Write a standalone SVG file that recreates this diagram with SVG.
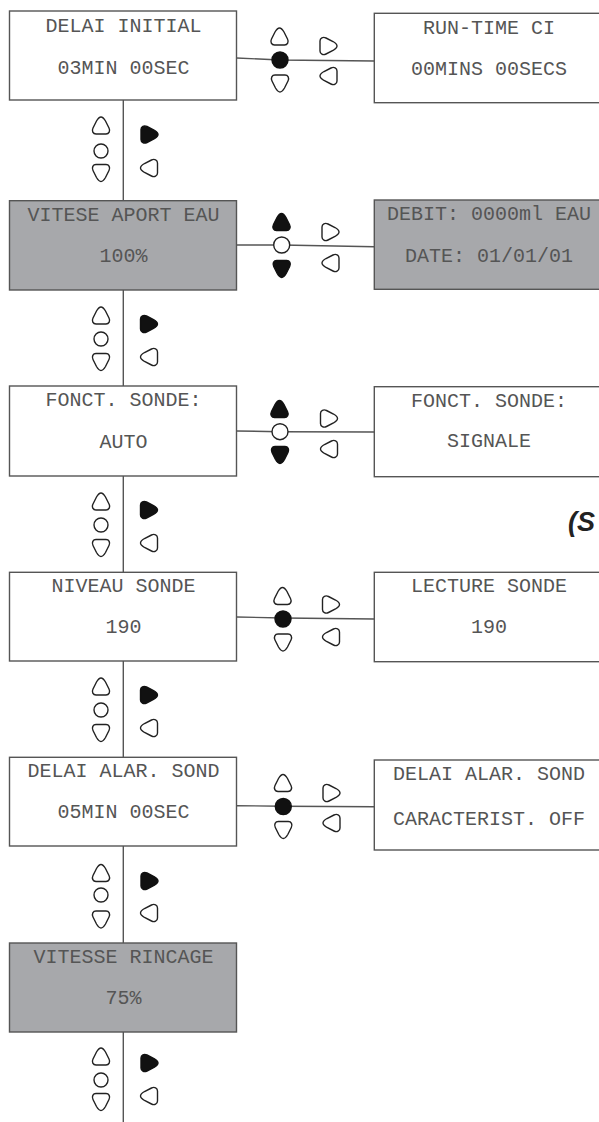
<svg xmlns="http://www.w3.org/2000/svg" xmlns:xlink="http://www.w3.org/1999/xlink" width="599" height="1122" viewBox="0 0 599 1122">
<style>
.box{fill:#fff;stroke:#555;stroke-width:1.4}
.box.g{fill:#a7a8ab}
.t{font-family:"Liberation Mono","Courier New",monospace;font-size:20px;fill:#555;text-anchor:middle}
.ln{stroke:#555;stroke-width:1.4;fill:none}
.o{fill:#fff;stroke:#222;stroke-width:1.4}
.f{fill:#111;stroke:#111;stroke-width:1.4}
.note{font-family:"Liberation Sans",Arial,sans-serif;font-size:27px;font-weight:bold;font-style:italic;fill:#222}
</style>
<defs>
<path id="tri" d="M 0,-8.5 C 2,-8.5 3,-7 4.5,-4.5 L 8,2.5 C 9.5,5.5 8,8.5 5,8.5 L -5,8.5 C -8,8.5 -9.5,5.5 -8,2.5 L -4.5,-4.5 C -3,-7 -2,-8.5 0,-8.5 Z"/>
</defs>
<rect width="599" height="1122" fill="#fff"/>

<g id="connectors">
  <line class="ln" x1="123.3" y1="100" x2="123.3" y2="200.7"/>
  <line class="ln" x1="123.3" y1="290" x2="123.3" y2="386"/>
  <line class="ln" x1="123.3" y1="476" x2="123.3" y2="572.3"/>
  <line class="ln" x1="123.3" y1="661" x2="123.3" y2="757.3"/>
  <line class="ln" x1="123.3" y1="846" x2="123.3" y2="943"/>
  <line class="ln" x1="123.3" y1="1032" x2="123.3" y2="1122"/>
  <polyline class="ln" points="236.5,58 280,60 374.3,61"/>
  <polyline class="ln" points="236.5,245 281.7,245 374.3,246.7"/>
  <polyline class="ln" points="236.5,431 280,431.7 374.3,432"/>
  <polyline class="ln" points="236.5,617 283,618 374.3,619"/>
  <polyline class="ln" points="236.5,805.7 283.3,806.2 374.3,806.7"/>
</g>

<g id="hc1">
  <use xlink:href="#tri" class="o" transform="translate(279.5,36.5)"/>
  <circle class="f" cx="280" cy="60" r="8"/>
  <use xlink:href="#tri" class="o" transform="translate(280,83.5) rotate(180)"/>
  <use xlink:href="#tri" class="o" transform="translate(328.5,46) rotate(90)"/>
  <use xlink:href="#tri" class="o" transform="translate(328.5,76) rotate(-90)"/>
</g>
<g id="hc2">
  <use xlink:href="#tri" class="f" transform="translate(281.5,222)"/>
  <circle class="o" cx="281.7" cy="245" r="8"/>
  <use xlink:href="#tri" class="f" transform="translate(281.7,269) rotate(180)"/>
  <use xlink:href="#tri" class="o" transform="translate(330.5,232) rotate(90)"/>
  <use xlink:href="#tri" class="o" transform="translate(330.5,263) rotate(-90)"/>
</g>
<g id="hc3">
  <use xlink:href="#tri" class="f" transform="translate(279.5,409)"/>
  <circle class="o" cx="280" cy="431.7" r="8"/>
  <use xlink:href="#tri" class="f" transform="translate(280,455) rotate(180)"/>
  <use xlink:href="#tri" class="o" transform="translate(329,418.5) rotate(90)"/>
  <use xlink:href="#tri" class="o" transform="translate(329,449) rotate(-90)"/>
</g>
<g id="hc4">
  <use xlink:href="#tri" class="o" transform="translate(282.5,596)"/>
  <circle class="f" cx="283" cy="619" r="8"/>
  <use xlink:href="#tri" class="o" transform="translate(283,642.5) rotate(180)"/>
  <use xlink:href="#tri" class="o" transform="translate(331,604.5) rotate(90)"/>
  <use xlink:href="#tri" class="o" transform="translate(331,637) rotate(-90)"/>
</g>
<g id="hc5">
  <use xlink:href="#tri" class="o" transform="translate(283,783)"/>
  <circle class="f" cx="283.3" cy="806.5" r="8"/>
  <use xlink:href="#tri" class="o" transform="translate(283.3,830) rotate(180)"/>
  <use xlink:href="#tri" class="o" transform="translate(331.5,793) rotate(90)"/>
  <use xlink:href="#tri" class="o" transform="translate(331.5,823) rotate(-90)"/>
</g>

<g id="vc1" transform="translate(0,100)">
  <use xlink:href="#tri" class="o" transform="translate(101,25.5)"/>
  <circle class="o" cx="101" cy="51" r="7"/>
  <use xlink:href="#tri" class="o" transform="translate(101,73) rotate(180)"/>
  <use xlink:href="#tri" class="f" transform="translate(149.5,34.5) rotate(90)"/>
  <use xlink:href="#tri" class="o" transform="translate(149,68) rotate(-90)"/>
</g>
<g id="vc2" transform="translate(0,290)">
  <use xlink:href="#tri" class="o" transform="translate(101,25.5)"/>
  <circle class="o" cx="101" cy="49" r="7"/>
  <use xlink:href="#tri" class="o" transform="translate(101,72) rotate(180)"/>
  <use xlink:href="#tri" class="f" transform="translate(149,34) rotate(90)"/>
  <use xlink:href="#tri" class="o" transform="translate(149,67) rotate(-90)"/>
</g>
<g id="vc3" transform="translate(0,476)">
  <use xlink:href="#tri" class="o" transform="translate(101,25.5)"/>
  <circle class="o" cx="101" cy="49" r="7"/>
  <use xlink:href="#tri" class="o" transform="translate(101,72) rotate(180)"/>
  <use xlink:href="#tri" class="f" transform="translate(149,34) rotate(90)"/>
  <use xlink:href="#tri" class="o" transform="translate(149,67) rotate(-90)"/>
</g>
<g id="vc4" transform="translate(0,661)">
  <use xlink:href="#tri" class="o" transform="translate(101,25.5)"/>
  <circle class="o" cx="101" cy="49" r="7"/>
  <use xlink:href="#tri" class="o" transform="translate(101,72) rotate(180)"/>
  <use xlink:href="#tri" class="f" transform="translate(149,34) rotate(90)"/>
  <use xlink:href="#tri" class="o" transform="translate(149,67) rotate(-90)"/>
</g>
<g id="vc5" transform="translate(0,846)">
  <use xlink:href="#tri" class="o" transform="translate(101,27)"/>
  <circle class="o" cx="101" cy="49" r="7"/>
  <use xlink:href="#tri" class="o" transform="translate(101,73.5) rotate(180)"/>
  <use xlink:href="#tri" class="f" transform="translate(149.5,35) rotate(90)"/>
  <use xlink:href="#tri" class="o" transform="translate(149,67) rotate(-90)"/>
</g>
<g id="vc6" transform="translate(0,1032)">
  <use xlink:href="#tri" class="o" transform="translate(101,24.5)"/>
  <circle class="o" cx="101" cy="48" r="7"/>
  <use xlink:href="#tri" class="o" transform="translate(101,70) rotate(180)"/>
  <use xlink:href="#tri" class="f" transform="translate(149.5,31) rotate(90)"/>
  <use xlink:href="#tri" class="o" transform="translate(149,64) rotate(-90)"/>
</g>

<g id="n-delai-initial">
  <rect class="box" x="9.5" y="11" width="227" height="89"/>
  <text class="t" x="123.5" y="32">DELAI INITIAL</text>
  <text class="t" x="123.5" y="74">03MIN 00SEC</text>
</g>
<g id="n-vitese-aport">
  <rect class="box g" x="9.5" y="200.7" width="227" height="89.3"/>
  <text class="t" x="123.5" y="220.5">VITESE APORT EAU</text>
  <text class="t" x="123.5" y="262">100%</text>
</g>
<g id="n-fonct-auto">
  <rect class="box" x="9.5" y="386" width="227" height="90"/>
  <text class="t" x="123.5" y="406">FONCT. SONDE:</text>
  <text class="t" x="123.5" y="448">AUTO</text>
</g>
<g id="n-niveau">
  <rect class="box" x="9.5" y="572.3" width="227" height="88.7"/>
  <text class="t" x="123.5" y="592">NIVEAU SONDE</text>
  <text class="t" x="123.5" y="633">190</text>
</g>
<g id="n-delai-alar">
  <rect class="box" x="9.5" y="757.3" width="227" height="88.7"/>
  <text class="t" x="123.5" y="777">DELAI ALAR. SOND</text>
  <text class="t" x="123.5" y="818">05MIN 00SEC</text>
</g>
<g id="n-vitesse-rincage">
  <rect class="box g" x="9.5" y="943" width="227" height="89"/>
  <text class="t" x="123.5" y="963">VITESSE RINCAGE</text>
  <text class="t" x="123.5" y="1004">75%</text>
</g>

<g id="n-runtime">
  <rect class="box" x="374.3" y="13.3" width="227" height="89.4"/>
  <text class="t" x="489" y="33.5">RUN-TIME CI</text>
  <text class="t" x="489" y="75">00MINS 00SECS</text>
</g>
<g id="n-debit">
  <rect class="box g" x="374.3" y="200" width="227" height="89.3"/>
  <text class="t" x="489" y="219.5">DEBIT: 0000ml EAU</text>
  <text class="t" x="489" y="261.7">DATE: 01/01/01</text>
</g>
<g id="n-fonct-signale">
  <rect class="box" x="374.3" y="386.7" width="227" height="90"/>
  <text class="t" x="489" y="406.7">FONCT. SONDE:</text>
  <text class="t" x="489" y="446.7">SIGNALE</text>
</g>
<g id="n-lecture">
  <rect class="box" x="374.3" y="572.3" width="227" height="89.4"/>
  <text class="t" x="489" y="592.3">LECTURE SONDE</text>
  <text class="t" x="489" y="632.7">190</text>
</g>
<g id="n-delai-alar-carac">
  <rect class="box" x="374.3" y="760" width="227" height="90"/>
  <text class="t" x="489" y="780">DELAI ALAR. SOND</text>
  <text class="t" x="489" y="825">CARACTERIST. OFF</text>
</g>

<text class="note" x="568" y="531">(S</text>
</svg>
